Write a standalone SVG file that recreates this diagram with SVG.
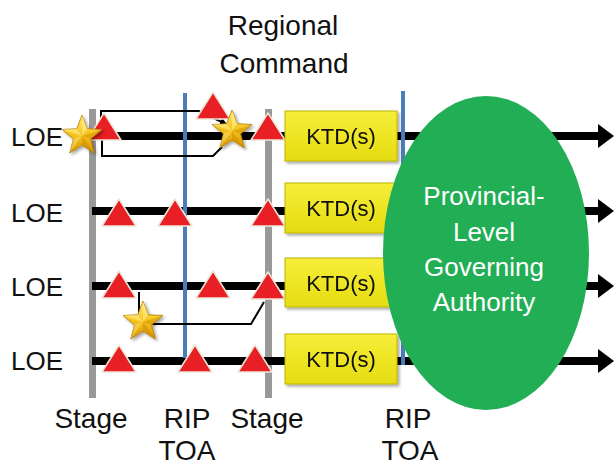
<svg xmlns="http://www.w3.org/2000/svg" width="615" height="467" viewBox="0 0 615 467">
<defs>
<linearGradient id="gold" x1="0" y1="0" x2="0" y2="1">
<stop offset="0" stop-color="#FFE97A"/>
<stop offset="0.5" stop-color="#F7C51E"/>
<stop offset="1" stop-color="#D99400"/>
</linearGradient>
<linearGradient id="ktd" x1="0" y1="0" x2="0" y2="1">
<stop offset="0" stop-color="#F6EE3A"/>
<stop offset="1" stop-color="#E6DC10"/>
</linearGradient>
<filter id="sh" x="-20%" y="-20%" width="150%" height="150%">
<feDropShadow dx="2" dy="2" stdDeviation="1.5" flood-color="#000" flood-opacity="0.35"/>
</filter>
<g id="star">
<polygon points="0,-21 5.3,-7.3 20,-6.5 8.6,2.8 12.3,17 0,9 -12.3,17 -8.6,2.8 -20,-6.5 -5.3,-7.3" fill="url(#gold)" stroke="#B07A00" stroke-width="0.8"/>
<polygon points="0,0 0,-21 5.3,-7.3" fill="#FFF3A0" opacity="0.5"/>
<polygon points="0,0 20,-6.5 8.6,2.8" fill="#C98A00" opacity="0.45"/>
<polygon points="0,0 12.3,17 0,9" fill="#C98A00" opacity="0.45"/>
<polygon points="0,0 -12.3,17 -8.6,2.8" fill="#FFF3A0" opacity="0.35"/>
<polygon points="0,0 -20,-6.5 -5.3,-7.3" fill="#FFF3A0" opacity="0.5"/>
</g>
<polygon id="tri" points="0,-27 17,0 -17,0"/>
<marker id="ah" markerWidth="8" markerHeight="8" refX="6" refY="4" orient="auto" markerUnits="userSpaceOnUse">
<path d="M0,0 L7,4 L0,8 z" fill="#000"/>
</marker>
</defs>
<style>
text{font-family:"Liberation Sans",Arial,sans-serif;fill:#111}
.lbl{font-size:26px}
.bot{font-size:28px;text-anchor:middle}
.ktdt{font-size:22px;text-anchor:middle}
.pl{font-size:26px;fill:#fff;text-anchor:middle}
.gray{fill:#999}
.blue{stroke:#4A7EBB;stroke-width:4}
.loe{stroke:#000;stroke-width:8}
.tri{fill:#E81F25;stroke:#EDE6D6;stroke-width:1.5;stroke-linejoin:round}
.con{fill:none;stroke:#000;stroke-width:2}
.box{fill:url(#ktd);stroke:#BDB400;stroke-width:1}
</style>

<g id="title">
<text x="283" y="35" style="font-size:28px" text-anchor="middle">Regional</text>
<text x="284" y="73" style="font-size:28px" text-anchor="middle">Command</text>
</g>

<g id="labels">
<text class="lbl" x="11" y="146">LOE</text>
<text class="lbl" x="11" y="222">LOE</text>
<text class="lbl" x="11" y="296">LOE</text>
<text class="lbl" x="11" y="370">LOE</text>
<text class="bot" x="91" y="428">Stage</text>
<text class="bot" x="187" y="428">RIP</text>
<text class="bot" x="187" y="460">TOA</text>
<text class="bot" x="267" y="428">Stage</text>
<text class="bot" x="408" y="428">RIP</text>
<text class="bot" x="410" y="460">TOA</text>
</g>

<g id="stage-bars">
<rect class="gray" x="89" y="109" width="7" height="289"/>
<rect class="gray" x="265" y="109" width="7" height="289"/>
</g>

<g id="loe-lines">
<line class="loe" x1="92" y1="136" x2="600" y2="136"/>
<polygon points="598,124 614,136 598,148"/>
<line class="loe" x1="92" y1="211" x2="600" y2="211"/>
<polygon points="598,199 614,211 598,223"/>
<line class="loe" x1="92" y1="286" x2="600" y2="286"/>
<polygon points="598,274 614,286 598,298"/>
<line class="loe" x1="92" y1="361" x2="600" y2="361"/>
<polygon points="598,349 614,361 598,373"/>
</g>

<g id="rip-lines">
<line class="blue" x1="185" y1="93" x2="185" y2="358"/>
<line class="blue" x1="403" y1="91" x2="403" y2="365"/>
</g>

<g id="connectors">
<polyline class="con" points="101,122 101,111 199,111 226,124" marker-end="url(#ah)"/>
<polyline class="con" points="102,140 102,156 213,156 222,147"/>
<polyline class="con" points="139,292 139,318"/>
<polyline class="con" points="150,324 251,324 264,302"/>
</g>

<g id="triangles">
<use href="#tri" class="tri" x="104" y="140"/>
<use href="#tri" class="tri" x="213" y="119"/>
<use href="#tri" class="tri" x="268" y="140"/>
<use href="#tri" class="tri" x="119" y="226"/>
<use href="#tri" class="tri" x="175" y="226"/>
<use href="#tri" class="tri" x="268" y="226"/>
<use href="#tri" class="tri" x="119" y="298"/>
<use href="#tri" class="tri" x="213" y="298"/>
<use href="#tri" class="tri" x="268" y="299"/>
<use href="#tri" class="tri" x="119" y="372"/>
<use href="#tri" class="tri" x="195" y="372"/>
<use href="#tri" class="tri" x="255" y="372"/>
</g>

<g id="stars" filter="url(#sh)">
<use href="#star" x="82" y="136"/>
<use href="#star" x="232" y="131"/>
<use href="#star" x="143" y="322"/>
</g>

<g id="ktd1" filter="url(#sh)"><rect class="box" x="285" y="111" width="112" height="50"/><text class="ktdt" x="341" y="144">KTD(s)</text></g>
<g id="ktd2" filter="url(#sh)"><rect class="box" x="285" y="183" width="112" height="50"/><text class="ktdt" x="341" y="216">KTD(s)</text></g>
<g id="ktd3" filter="url(#sh)"><rect class="box" x="285" y="258" width="112" height="49"/><text class="ktdt" x="341" y="291">KTD(s)</text></g>
<g id="ktd4" filter="url(#sh)"><rect class="box" x="285" y="334" width="112" height="50"/><text class="ktdt" x="341" y="367">KTD(s)</text></g>

<g id="provincial">
<ellipse cx="486" cy="253" rx="103" ry="157" fill="#22AE55"/>
<text class="pl" x="484" y="205">Provincial-</text>
<text class="pl" x="484" y="241">Level</text>
<text class="pl" x="484" y="276">Governing</text>
<text class="pl" x="484" y="311">Authority</text>
</g>
</svg>
